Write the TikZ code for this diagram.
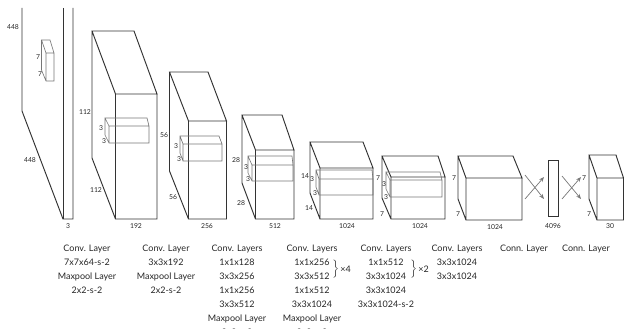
\documentclass[tikz,border=0pt]{standalone}
\usepackage{fontspec}
\setmainfont{Lato}
\usepackage{xcolor}
\usetikzlibrary{arrows.meta, positioning}
\definecolor{boxdark}{HTML}{333333}
\definecolor{boxgray}{HTML}{777777}
\definecolor{textgray}{HTML}{262626}

\begin{document}
\begin{tikzpicture}[
    x=1pt, y=-1pt,
    solid box/.style={draw=boxdark, line width=0.95pt, line join=miter},
    kernel/.style={draw=boxgray, line width=0.65pt},
    dim/.style={inner sep=0pt, text=textgray, font=\fontsize{6.8}{8}\selectfont},
    caption/.style={anchor=north, inner sep=0pt, align=center, text=textgray, font=\fontsize{9}{14}\selectfont},
    cross/.style={-{Stealth[length=1.8mm,width=1.4mm]}, draw=boxgray, line width=0.7pt}
]
\useasboundingbox (0,0) rectangle (624,329);

% Input image
\draw[solid box] (22,8) -- (22,111) -- (63,219) -- (73,219) -- (73,8);
\draw[solid box] (63,8) -- (63,219);
\draw[kernel] (41.5,40) -- (50,40) -- (54,53) -- (46,53) -- cycle (41.5,40) -- (41.5,70) -- (46,81) -- (54,81) -- (54,53) (46,53) -- (46,81);

% Conv. boxes
\draw[solid box] (92,31) -- (134,31) -- (157,94) -- (115.5,94) -- cycle (92,31) -- (92,158) -- (115.5,219) -- (157,219) -- (157,94) (115.5,94) -- (115.5,219);
\draw[kernel] (105,118) -- (147,118) -- (149,126) -- (109,126) -- cycle (105,118) -- (105,135) -- (109,143) -- (149,143) -- (149,126) (109,126) -- (109,143);

\draw[solid box] (169.5,72) -- (208,72) -- (226.5,121) -- (188.5,121) -- cycle (169.5,72) -- (169.5,171) -- (188.5,219) -- (226.5,219) -- (226.5,121) (188.5,121) -- (188.5,219);
\draw[kernel] (180,136) -- (219,136) -- (222,144) -- (183,144) -- cycle (180,136) -- (180,153) -- (183,161) -- (222,161) -- (222,144) (183,144) -- (183,161);

\draw[solid box] (242,115) -- (282,115) -- (294,150) -- (255.5,150) -- cycle (242,115) -- (242,183) -- (255.5,219) -- (294,219) -- (294,150) (255.5,150) -- (255.5,219);
\draw[kernel] (248,156) -- (292,156) -- (293,165) -- (252,165) -- cycle (248,156) -- (248,173) -- (252,181) -- (293,181) -- (293,165) (252,165) -- (252,181);

\draw[solid box] (310,142) -- (363,142) -- (373,168) -- (320,168) -- cycle (310,142) -- (310,193) -- (320,219) -- (373,219) -- (373,168) (320,168) -- (320,219);
\draw[kernel] (316,170) -- (372,170) -- (373,179) -- (319,179) -- cycle (316,170) -- (316,187) -- (319,195) -- (373,195) -- (373,179) (319,179) -- (319,195);

\draw[solid box] (382,156) -- (438,156) -- (445,177) -- (391,177) -- cycle (382,156) -- (382,198) -- (391,219) -- (445,219) -- (445,177) (391,177) -- (391,219);
\draw[kernel] (386,172) -- (440,172) -- (442,180) -- (390,180) -- cycle (386,172) -- (386,189) -- (390,197) -- (442,197) -- (442,180) (390,180) -- (390,197);

\draw[solid box] (458,156) -- (513,156) -- (522,178) -- (466,178) -- cycle (458,156) -- (458,199) -- (466,220) -- (522,220) -- (522,178) (466,178) -- (466,220);

% Conn. layers
\node[solid box, minimum width=10pt, minimum height=56pt, inner sep=0pt] (fc) at (553,188) {};
\draw[solid box] (589,155) -- (616,155) -- (623.5,178) -- (597,178) -- cycle (589,155) -- (589,199) -- (597,220) -- (623.5,220) -- (623.5,178) (597,178) -- (597,220);

\coordinate (ina) at (525,175);
\coordinate (inb) at (525,199);
\coordinate (mida) at (544,199);
\coordinate (midb) at (544,177);
\coordinate (outa) at (562,176);
\coordinate (outb) at (562,199);
\coordinate (lasta) at (581,177);
\coordinate (lastb) at (581,199);
\draw[cross] (ina) -- (mida);
\draw[cross] (inb) -- (midb);
\draw[cross] (outa) -- (lastb);
\draw[cross] (outb) -- (lasta);

% Sizes
\node[dim] (d1) at (13,27) {448};
\node[dim] (d2) at (30,160) {448};
\node[dim] (d3) at (68,226) {3};
\node[dim] (d4) at (38,57) {7};
\node[dim] (d5) at (40,74) {7};
\node[dim] (d6) at (85,112) {112};
\node[dim] (d7) at (96,190) {112};
\node[dim] (d8) at (136,226) {192};
\node[dim] (d9) at (101,128) {3};
\node[dim] (d10) at (104,141) {3};
\node[dim] (d11) at (164,135) {56};
\node[dim] (d12) at (173,197) {56};
\node[dim] (d13) at (207,226) {256};
\node[dim] (d14) at (176,146) {3};
\node[dim] (d15) at (179,159) {3};
\node[dim] (d16) at (236,160) {28};
\node[dim] (d17) at (241,203) {28};
\node[dim] (d18) at (275,226) {512};
\node[dim] (d19) at (246,167) {3};
\node[dim] (d20) at (248,179) {3};
\node[dim] (d21) at (305,176) {14};
\node[dim] (d22) at (309,208) {14};
\node[dim] (d23) at (347,226) {1024};
\node[dim] (d24) at (312,179) {3};
\node[dim] (d25) at (315,193) {3};
\node[dim] (d26) at (378,178) {7};
\node[dim] (d27) at (382,214) {7};
\node[dim] (d28) at (420,226) {1024};
\node[dim] (d29) at (384,184) {3};
\node[dim] (d30) at (386,197) {3};
\node[dim] (d31) at (454,178) {7};
\node[dim] (d32) at (458,214) {7};
\node[dim] (d33) at (495,227) {1024};
\node[dim] (d34) at (553,226) {4096};
\node[dim] (d35) at (584,178) {7};
\node[dim] (d36) at (589,214) {7};
\node[dim] (d37) at (610,226) {30};

% Captions
\node[caption] (c1) at (87,245) {Conv. Layer\\7x7x64-s-2\\Maxpool Layer\\2x2-s-2};
\node[caption] (c2) at (166,245) {Conv. Layer\\3x3x192\\Maxpool Layer\\2x2-s-2};
\node[caption] (c3) at (237,245) {Conv. Layers\\1x1x128\\3x3x256\\1x1x256\\3x3x512\\Maxpool Layer\\2x2-s-2};
\node[caption] (c4) at (312,245) {Conv. Layers\\1x1x256\\3x3x512\\1x1x512\\3x3x1024\\Maxpool Layer\\2x2-s-2};
\node[caption] (c5) at (386,245) {Conv. Layers\\1x1x512\\3x3x1024\\3x3x1024\\3x3x1024-s-2};
\node[caption] (c6) at (457,245) {Conv. Layers\\3x3x1024\\3x3x1024};
\node[caption] (c7) at (524,245) {Conn. Layer};
\node[caption] (c8) at (586,245) {Conn. Layer};

% Repeats
\node[inner sep=0pt, text=textgray] (b4) at (335,269) {$\left.\rule{0pt}{10.5pt}\right\}$};
\node[right=1pt of b4, inner sep=0pt, text=textgray, font=\fontsize{9}{10}\selectfont] (x4) {×4};
\node[inner sep=0pt, text=textgray] (b2) at (413,269) {$\left.\rule{0pt}{10.5pt}\right\}$};
\node[right=1pt of b2, inner sep=0pt, text=textgray, font=\fontsize{9}{10}\selectfont] (x2) {×2};
\end{tikzpicture}
\end{document}
